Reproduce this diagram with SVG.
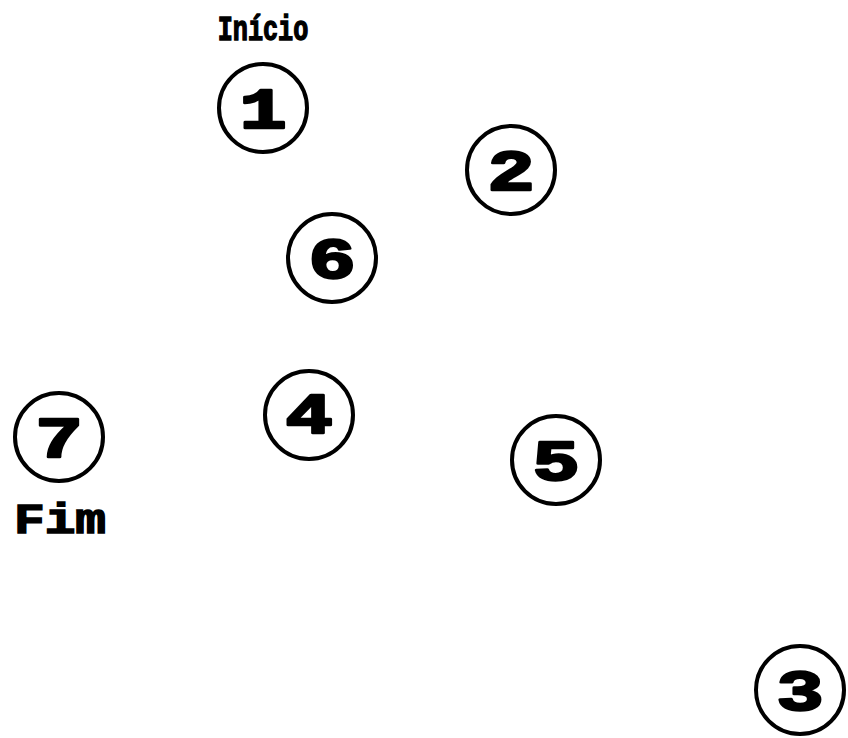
<svg xmlns="http://www.w3.org/2000/svg" width="848" height="738" viewBox="0 0 848 738">
<style>
.c{fill:#fff;stroke:#000;stroke-width:4}
.n{font-family:"Liberation Mono","DejaVu Sans Mono",monospace;font-weight:bold;font-size:57px;text-anchor:middle;fill:#000;stroke:#000;stroke-width:2.5;stroke-linejoin:round}
.l{font-family:"Liberation Mono","DejaVu Sans Mono",monospace;font-weight:bold;text-anchor:middle;fill:#000;stroke:#000;stroke-width:1.5}
</style>
<rect width="848" height="738" fill="#fff"/>
<g id="connectors"></g>
<g id="node1"><circle class="c" cx="263" cy="108" r="44"/><text class="n" x="0" y="128" transform="translate(263 0) scale(1.38 1)">1</text><text class="l" x="0" y="40" font-size="36" transform="translate(263 0) scale(0.7 1)">Início</text></g>
<g id="node2"><circle class="c" cx="511" cy="170" r="44"/><text class="n" x="0" y="190" transform="translate(511 0) scale(1.38 1)">2</text></g>
<g id="node6"><circle class="c" cx="332" cy="258" r="44"/><text class="n" x="0" y="278" transform="translate(332 0) scale(1.38 1)">6</text></g>
<g id="node4"><circle class="c" cx="309" cy="415" r="44"/><text class="n" x="0" y="433" transform="translate(309 0) scale(1.38 1)">4</text></g>
<g id="node5"><circle class="c" cx="556" cy="460" r="44"/><text class="n" x="0" y="480" transform="translate(556 0) scale(1.38 1)">5</text></g>
<g id="node7"><circle class="c" cx="59" cy="437" r="44"/><text class="n" x="0" y="457" transform="translate(59 0) scale(1.38 1)">7</text><text class="l" x="0" y="533" font-size="42" transform="translate(60 0) scale(1.22 1)">Fim</text></g>
<g id="node3"><circle class="c" cx="800" cy="690" r="44"/><text class="n" x="0" y="710" transform="translate(800 0) scale(1.38 1)">3</text></g>
</svg>
